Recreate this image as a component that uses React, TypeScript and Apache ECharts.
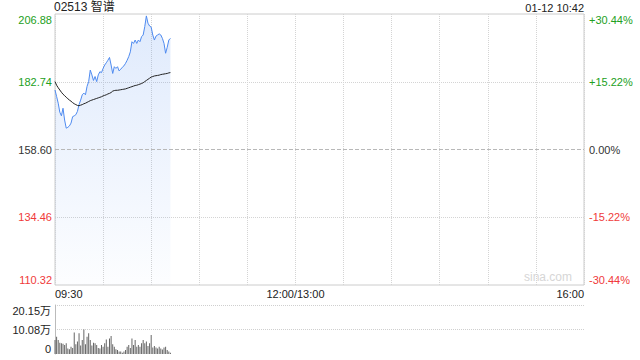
import React, { useEffect, useRef } from "react";
import * as echarts from "echarts";

const stockTitle = "02513 智谱";
const stampText = "01-12 10:42";
const prevClose = 158.6;
const priceSpan = 48.28; // 206.88 - 158.60
const priceStep = 24.14;
const pctSpan = 30.44;
const pctStep = 15.22;
const volMax = 20.15;
const volStep = 10.075;
const volTickLabels = ["0", "10.08万", "20.15万"];
const totalMinutes = 330;
const xLabelIdx = [0, 150, 330];
const xLabelText = ["09:30", "12:00/13:00", "16:00"];

const prices = [
  179.8, 177.5, 175.1, 171.9, 170.6, 173.3, 169.1, 166.2, 166.5, 167.0,
  168.0, 170.3, 170.6, 171.0, 172.2, 174.6, 176.2, 178.1, 178.7, 178.1,
  181.1, 182.8, 186.9, 185.2, 183.2, 184.6, 182.8, 185.2, 186.3, 186.0,
  187.5, 188.7, 189.5, 190.4, 191.4, 188.7, 185.7, 188.1, 187.5, 188.1,
  186.6, 187.2, 187.9, 188.4, 189.3, 190.4, 191.7, 193.4, 197.0, 196.4,
  197.6, 196.4, 197.6, 197.0, 198.8, 199.4, 202.4, 206.2, 203.6, 202.6,
  202.2, 199.4, 197.6, 199.0, 199.4, 199.8, 199.4, 198.2, 196.4, 192.9,
  195.0, 197.6, 198.2,
];

const avgPrices = [
  182.8, 181.5, 180.6, 179.8, 179.0, 178.3, 177.8, 177.2, 176.7, 176.2,
  175.8, 175.3, 174.9, 174.6, 174.3, 174.2, 174.4, 174.6, 174.9, 175.1,
  175.4, 175.7, 176.0, 176.2, 176.4, 176.6, 176.8, 177.0, 177.2, 177.4,
  177.7, 177.9, 178.1, 178.4, 178.6, 178.9, 179.4, 179.6, 179.7, 179.7,
  179.8, 179.9, 180.0, 180.1, 180.2, 180.4, 180.6, 180.8, 181.0, 181.2,
  181.4, 181.5, 181.7, 181.9, 182.1, 182.4, 182.8, 183.2, 183.6, 184.0,
  184.4, 184.6, 184.8, 184.9, 185.0, 185.1, 185.3, 185.4, 185.5, 185.6,
  185.7, 185.9, 186.0,
];

// volume in 万 shares
const volumes = [
  5.8, 7.1, 5.8, 4.6, 4.4, 4.2, 3.7, 4.4, 2.3, 2.0,
  3.0, 2.5, 8.8, 4.0, 5.1, 8.5, 3.5, 5.8, 10.1, 4.0,
  7.1, 8.5, 5.8, 3.5, 4.6, 4.4, 3.7, 2.5, 2.3, 3.7,
  3.0, 4.4, 6.0, 3.0, 6.4, 7.4, 4.0, 3.0, 2.0, 1.6,
  1.0, 1.0, 0.5, 1.0, 1.6, 3.0, 3.7, 2.5, 6.4, 3.7,
  5.8, 3.0, 3.7, 3.0, 4.4, 5.8, 4.4, 5.1, 3.3, 4.4,
  7.8, 2.7, 3.3, 2.7, 2.3, 3.0, 2.3, 1.9, 2.7, 3.0,
  1.6, 1.0, 0.5,
];

const FONT = 'Arial, "Liberation Sans", Helvetica, "Noto Sans CJK SC", sans-serif';
const UP = "#22a022";
const DOWN = "#f03a3a";
const FLAT = "#333333";

function signColor(v: number) {
  if (v > 1e-6) return UP;
  if (v < -1e-6) return DOWN;
  return FLAT;
}

export default function App() {
  const ref = useRef<HTMLDivElement>(null);

  useEffect(() => {
    if (!ref.current) return;
    const chart = echarts.init(ref.current, undefined, { renderer: "svg" });

    const option: any = {
      animation: false,
      backgroundColor: "#ffffff",
      textStyle: { fontFamily: FONT },
      title: [
        {
          text: stockTitle,
          left: 54,
          top: 1,
          padding: 0,
          textStyle: { fontSize: 12, color: "#222", fontWeight: "normal", fontFamily: FONT },
        },
        {
          text: stampText,
          right: 56,
          top: 2,
          padding: 0,
          textStyle: { fontSize: 11, color: "#222", fontWeight: "normal", fontFamily: FONT },
        },
      ],
      graphic: [
        {
          type: "text",
          right: 68,
          bottom: 77,
          silent: true,
          style: { text: "sina.com", fill: "#d6d6d6", fontSize: 12, fontFamily: FONT },
        },
      ],
      grid: [
        { left: 55, right: 56, top: 14, height: 271, show: true, borderColor: "#cccccc", borderWidth: 1, backgroundColor: "transparent" },
        { left: 55, right: 56, top: 305, height: 49, show: false },
      ],
      xAxis: [
        {
          type: "value",
          gridIndex: 0,
          min: 0,
          max: totalMinutes,
          interval: 30,
          axisLine: { show: false },
          axisTick: { show: false },
          splitLine: { show: true, lineStyle: { type: "dotted", color: "#d4d4d4", width: 1 } },
          axisLabel: {
            fontSize: 11,
            color: "#222",
            margin: 3,
            fontFamily: FONT,
            alignMinLabel: "left",
            alignMaxLabel: "right",
            formatter: (v: number) => {
              const k = xLabelIdx.indexOf(Math.round(v));
              return k >= 0 ? xLabelText[k] : "";
            },
          },
        },
        {
          type: "value",
          gridIndex: 1,
          min: 0,
          max: totalMinutes,
          interval: 30,
          axisLine: { show: false },
          axisTick: { show: false },
          splitLine: { show: false },
          axisLabel: { show: false },
        },
      ],
      yAxis: [
        {
          type: "value",
          gridIndex: 0,
          position: "left",
          min: -priceSpan,
          max: priceSpan,
          interval: priceStep,
          axisLine: { show: false },
          axisTick: { show: false },
          splitLine: {
            show: true,
            lineStyle: {
              type: "dotted",
              color: ["transparent", "#d4d4d4", "transparent", "#d4d4d4", "transparent"],
            },
          },
          axisLabel: {
            fontSize: 11,
            margin: 3,
            fontFamily: FONT,
            verticalAlignMaxLabel: "top",
            verticalAlignMinLabel: "bottom",
            color: (v: any) => signColor(Number(v)),
            formatter: (v: number) => (v + prevClose).toFixed(2),
          },
        },
        {
          type: "value",
          gridIndex: 0,
          position: "right",
          min: -pctSpan,
          max: pctSpan,
          interval: pctStep,
          axisLine: { show: false },
          axisTick: { show: false },
          splitLine: { show: false },
          axisLabel: {
            fontSize: 11,
            margin: 5,
            fontFamily: FONT,
            verticalAlignMaxLabel: "top",
            verticalAlignMinLabel: "bottom",
            color: (v: any) => signColor(Number(v)),
            formatter: (v: number) => {
              const s = Math.abs(v) < 1e-6 ? "0.00" : v.toFixed(2);
              return (v > 1e-6 ? "+" : "") + s + "%";
            },
          },
        },
        {
          type: "value",
          gridIndex: 1,
          position: "left",
          min: 0,
          max: volMax,
          interval: volStep,
          axisLine: { show: true, lineStyle: { color: "#bbbbbb", width: 1 } },
          axisTick: { show: false },
          splitLine: {
            show: true,
            lineStyle: { type: "dotted", color: ["transparent", "#cfcfcf", "#cfcfcf"] },
          },
          axisLabel: {
            fontSize: 11,
            margin: 4,
            color: "#222",
            fontFamily: FONT,
            verticalAlignMaxLabel: "top",
            verticalAlignMinLabel: "bottom",
            formatter: (v: number) => volTickLabels[Math.round(v / volStep)] ?? "",
          },
        },
      ],
      series: [
        {
          type: "line",
          xAxisIndex: 0,
          yAxisIndex: 0,
          data: prices.map((p, i) => [i, +(p - prevClose).toFixed(2)]),
          showSymbol: false,
          symbol: "none",
          lineStyle: { color: "#4f8bf0", width: 1 },
          areaStyle: {
            origin: "start",
            color: new echarts.graphic.LinearGradient(0, 0, 0, 1, [
              { offset: 0, color: "rgba(80,140,240,0.26)" },
              { offset: 1, color: "rgba(80,140,240,0.02)" },
            ]),
          },
          markLine: {
            silent: true,
            symbol: "none",
            label: { show: false },
            lineStyle: { color: "#b8b8b8", type: [4, 2], width: 1 },
            data: [{ yAxis: 0 }],
          },
          z: 3,
        },
        {
          type: "line",
          xAxisIndex: 0,
          yAxisIndex: 0,
          data: avgPrices.map((p, i) => [i, +(p - prevClose).toFixed(2)]),
          showSymbol: false,
          symbol: "none",
          lineStyle: { color: "#222222", width: 1 },
          z: 4,
        },
        {
          type: "bar",
          xAxisIndex: 1,
          yAxisIndex: 2,
          data: volumes.map((v, i) => [i, v]),
          barWidth: 1,
          itemStyle: { color: "#666666" },
        },
      ],
    };

    chart.setOption(option);
    return () => {
      chart.dispose();
    };
  }, []);

  return (
    <div
      ref={ref}
      style={{ position: "absolute", left: 0, top: 0, width: 640, height: 360 }}
    />
  );
}
